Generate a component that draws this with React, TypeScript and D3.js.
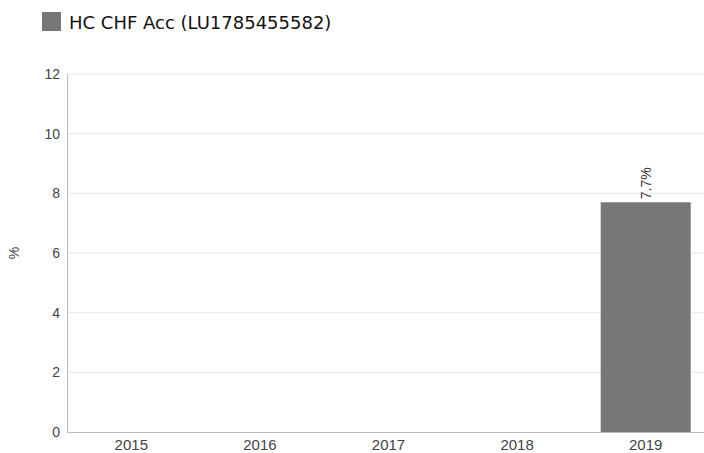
import React from "react";
import * as d3 from "d3";

const years = ["2015", "2016", "2017", "2018", "2019"];
const values: (number | null)[] = [null, null, null, null, 7.7];
const yTicks = [0, 2, 4, 6, 8, 10, 12];
const seriesName = "HC CHF Acc (LU1785455582)";

const W = 704;
const H = 453;
const margin = { top: 74, left: 67, bottom: 21 };

export default function App() {
  const x = d3
    .scaleBand<string>()
    .domain(years)
    .range([margin.left, 710])
    .paddingInner(0.3)
    .paddingOuter(0.15);
  const y = d3.scaleLinear().domain([0, 12]).range([H - margin.bottom, margin.top]);

  return (
    <svg
      width={W}
      height={H}
      style={{ position: "absolute", left: 0, top: 0, background: "#fff" }}
      fontFamily="'Liberation Sans', Arial, sans-serif"
    >
      {/* legend */}
      <rect x={42} y={12} width={19} height={19} fill="#777" />
      <text x={69} y={29} fontSize={18} fontFamily="'DejaVu Sans', sans-serif" fill="#111">
        {seriesName}
      </text>

      {/* grid */}
      {yTicks.map((t) => (
        <g key={t}>
          {t > 0 && (
            <line x1={margin.left} x2={W} y1={y(t)} y2={y(t)} stroke="#e6e6e6" />
          )}
          <text x={margin.left - 7} y={y(t) + 5} textAnchor="end" fontSize={14} fill="#444">
            {t}
          </text>
        </g>
      ))}

      <text
        transform={`translate(19,${(y(0) + y(12)) / 2}) rotate(-90)`}
        textAnchor="middle"
        fontSize={14}
        fill="#444"
      >
        %
      </text>

      {/* bars */}
      {years.map((yr, i) => {
        const v = values[i];
        if (v == null) return null;
        const bx = x(yr)!;
        return (
          <g key={yr}>
            <rect x={bx} y={y(v)} width={x.bandwidth()} height={y(0) - y(v)} fill="#777" />
            <text
              transform={`translate(${bx + x.bandwidth() / 2 + 5},${y(v) - 3}) rotate(-90)`}
              fontSize={14}
              fill="#333"
            >
              {`${v}%`}
            </text>
          </g>
        );
      })}

      {/* axes */}
      <line x1={margin.left + 0.5} x2={margin.left + 0.5} y1={y(12)} y2={y(0)} stroke="#bbb" />
      <line x1={margin.left} x2={W} y1={y(0) + 0.5} y2={y(0) + 0.5} stroke="#bbb" />
      {years.map((yr) => (
        <text
          key={yr}
          x={x(yr)! + x.bandwidth() / 2}
          y={y(0) + 18}
          textAnchor="middle"
          fontSize={15}
          fill="#444"
        >
          {yr}
        </text>
      ))}
    </svg>
  );
}
